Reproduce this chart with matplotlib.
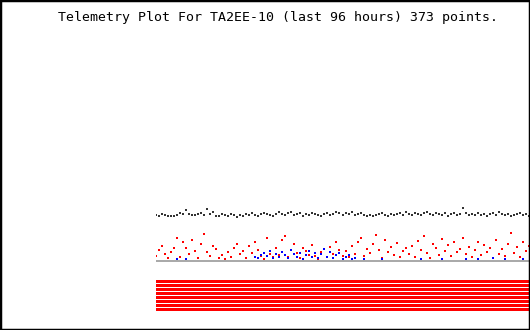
import numpy as np
import matplotlib
matplotlib.use('Agg')
from matplotlib import pyplot as plt
from matplotlib.patches import Rectangle

title = 'Telemetry Plot For TA2EE-10 (last 96 hours) 373 points.'
n_points = 373
step = 3  # one sample read every 3 points

# height above the baseline
black = [45, 44, 46, 45, 44, 44, 44, 45, 47, 46, 50, 46, 45, 45, 46, 47, 45, 51, 46, 48, 44,
         44, 46, 45, 44, 46, 45, 43, 45, 44, 46, 45, 47, 45, 44, 46, 47, 46, 45, 44, 46, 48,
         46, 45, 47, 48, 45, 46, 47, 44, 46, 45, 47, 46, 45, 44, 46, 47, 45, 46, 48, 47, 45,
         47, 46, 48, 45, 46, 47, 45, 44, 45, 44, 45, 46, 47, 45, 44, 46, 45, 46, 47, 45, 48,
         46, 45, 47, 46, 45, 47, 48, 46, 45, 47, 46, 45, 47, 44, 46, 47, 45, 46, 52, 47, 45,
         46, 45, 47, 45, 46, 44, 46, 47, 45, 48, 46, 45, 46, 44, 45, 46, 47, 45, 46, 44]

red = [4, 10, 14, 6, 2, 8, 12, 22, 3, 18, 12, 6, 20, 9, 2, 16, 26, 8, 4, 14, 11,
       2, 5, 1, 8, 3, 12, 16, 6, 9, 2, 14, 7, 18, 10, 4, 1, 22, 6, 3, 12, 5,
       20, 24, 3, 10, 16, 7, 2, 12, 9, 5, 15, 4, 1, 8, 11, 3, 13, 6, 18, 10, 4,
       9, 3, 14, 6, 18, 22, 4, 11, 7, 16, 25, 10, 2, 20, 8, 13, 5, 17, 3, 9, 12,
       6, 14, 3, 19, 10, 24, 7, 2, 16, 12, 5, 21, 9, 15, 4, 18, 8, 11, 22, 6, 13,
       3, 10, 18, 5, 15, 8, 12, 2, 20, 6, 11, 4, 16, 27, 7, 13, 3, 18, 9, 14]

N = None
blue = [N, N, N, N, N, N, N, 1, N, N, 1, N, N, N, N, N, N, N, N, N, N,
        N, N, N, N, N, N, N, N, N, N, N, N, 3, 2, 5, 7, 4, 9, 2, 6, 3,
        8, 5, 2, 10, 6, 3, 7, 1, 5, 9, 3, 7, 2, 6, 11, 3, 8, 2, 5, 7, 1,
        3, 5, 1, 2, N, N, 1, N, N, N, N, N, 1, N, N, N, N, N, N, N, N,
        N, N, N, N, 1, N, N, N, N, N, N, 1, N, N, N, N, N, N, N, 1, N,
        N, N, 1, N, N, N, N, 2, N, N, N, 1, N, N, N, N, N, 1, N, N]

status_bits = ['b0', 'b1', 'b2', 'b3', 'b4', 'b5', 'b6', 'b7']

x = np.arange(0, n_points, step)
blue_v = np.array([np.nan if v is None else v for v in blue], dtype=float)

W, H = 530, 330
fig = plt.figure(figsize=(W / 100, H / 100), dpi=100)
fig.patches.append(Rectangle((0, 0), 1, 1, transform=fig.transFigure,
                             fill=False, edgecolor='black', lw=2.5))

fig.text(278 / W, 1 - 17 / H, title, family='DejaVu Sans Mono', fontsize=9.5,
         ha='center', va='center')

# analog channels
ax = fig.add_axes([156 / W, 1 - 262 / H, 373 / W, 62 / H])
ax.axhspan(-2, 0, color='#aaaaaa', lw=0)
ax.plot(x, black, ls='none', marker='s', ms=1.7, mew=0, color='#333333')
ax.plot(x, red, ls='none', marker='s', ms=1.6, mew=0, color='#ff0000')
ax.plot(x, blue_v, ls='none', marker='s', ms=1.6, mew=0, color='#0000ff')
ax.set_xlim(0, n_points - 1)
ax.set_ylim(-2, 60)
ax.axis('off')

# status bits
ax2 = fig.add_axes([156 / W, 1 - 311.5 / H, 373 / W, 32 / H])
ax2.barh(np.arange(len(status_bits)), n_points - 1, left=0, height=0.75,
         color='#ff0000', lw=0)
ax2.set_xlim(0, n_points - 1)
ax2.set_ylim(-0.5, len(status_bits) - 0.5)
ax2.axis('off')

fig.savefig('out.png', dpi=100)
